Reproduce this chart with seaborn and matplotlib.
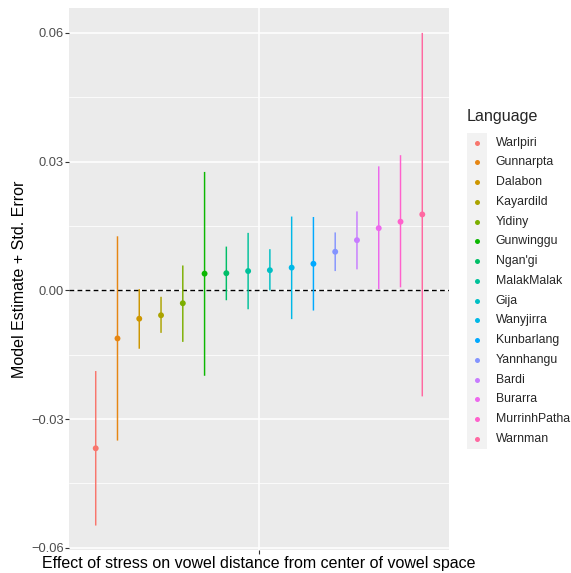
import numpy as np
import pandas as pd
import matplotlib
matplotlib.use("Agg")
import matplotlib.pyplot as plt
from matplotlib.patches import Rectangle
from matplotlib.lines import Line2D
import seaborn as sns

languages = ["Warlpiri", "Gunnarpta", "Dalabon", "Kayardild", "Yidiny", "Gunwinggu",
             "Ngan'gi", "MalakMalak", "Gija", "Wanyjirra", "Kunbarlang", "Yannhangu",
             "Bardi", "Burarra", "MurrinhPatha", "Warnman"]
estimate = [-0.0368, -0.0112, -0.0066, -0.0058, -0.0030, 0.0039, 0.0040, 0.0045,
            0.0047, 0.0053, 0.0062, 0.0090, 0.0117, 0.0145, 0.0160, 0.0177]
upper = [-0.0188, 0.0126, 0.0003, -0.0015, 0.0058, 0.0276, 0.0102, 0.0134,
         0.0096, 0.0172, 0.0171, 0.0135, 0.0184, 0.0289, 0.0315, 0.0600]
lower = [-0.0548, -0.0350, -0.0136, -0.0099, -0.0120, -0.0199, -0.0023, -0.0044,
         0.0000, -0.0067, -0.0047, 0.0045, 0.0049, 0.0003, 0.0007, -0.0247]
y_ticks = [-0.06, -0.03, 0.00, 0.03, 0.06]
y_tick_labels = ["\u22120.06", "\u22120.03", "0.00", "0.03", "0.06"]
x_title = "Effect of stress on vowel distance from center of vowel space"
y_title = "Model Estimate + Std. Error"
legend_title = "Language"


def hcl_hex(h, c=100.0, l=65.0):
    Xn, Yn, Zn = 95.047, 100.0, 108.883
    hr = np.radians(h)
    U, V = c * np.cos(hr), c * np.sin(hr)
    Y = Yn * ((l + 16) / 116) ** 3 if l > 8 else Yn * l / 903.3
    t = Xn + Yn + Zn
    x, y = Xn / t, Yn / t
    uN = 2 * x / (6 * y - x + 1.5)
    vN = 4.5 * y / (6 * y - x + 1.5)
    u = U / (13 * l) + uN
    v = V / (13 * l) + vN
    X = 9.0 * Y * u / (4 * v)
    Z = -X / 3 - 5 * Y + 3 * Y / v
    X, Y, Z = X / 100, Y / 100, Z / 100
    R = 3.240479 * X - 1.537150 * Y - 0.498535 * Z
    G = -0.969256 * X + 1.875992 * Y + 0.041556 * Z
    B = 0.055648 * X - 0.204043 * Y + 1.057311 * Z

    def gam(q):
        q = 1.055 * q ** (1 / 2.4) - 0.055 if q > 0.00304 else 12.92 * q
        return min(max(q, 0.0), 1.0)
    return "#%02X%02X%02X" % tuple(int(round(gam(q) * 255)) for q in (R, G, B))


n = len(languages)
hues = [15 + 360 / n * i for i in range(n)]
palette = {lang: hcl_hex(h) for lang, h in zip(languages, hues)}

dodge = 1.1
df = pd.DataFrame({
    "Language": pd.Categorical(languages, categories=languages, ordered=True),
    "estimate": estimate,
    "upper": upper,
    "lower": lower,
})
df["x"] = 1 + (np.arange(n) - (n - 1) / 2) * dodge / n

sns.set_style("darkgrid", rc={
    "axes.facecolor": "#EBEBEB",
    "grid.color": "white",
    "axes.edgecolor": "none",
})
plt.rcParams["font.family"] = ["Liberation Sans", "DejaVu Sans"]

W, H = 571, 573
fig = plt.figure(figsize=(W / 100, H / 100), dpi=100)
fig.patch.set_facecolor("white")
ax = fig.add_axes([69 / W, 1 - 550 / H, (449 - 69) / W, (550 - 8) / H])
ax.set_facecolor("#EBEBEB")

# grid
ax.set_axisbelow(True)
ax.grid(False)
for yv in y_ticks:
    ax.axhline(yv, color="white", lw=1.1, zorder=0.5)
for yv in [-0.045, -0.015, 0.015, 0.045]:
    ax.axhline(yv, color="white", lw=0.55, zorder=0.5)
ax.axvline(1.0, color="white", lw=1.1, zorder=0.5)

ax.axhline(0, color="black", lw=1.0, linestyle=(0, (3.4, 2.4)), zorder=1)

vl = ax.vlines(df["x"], df["lower"], df["upper"],
               colors=[palette[l] for l in df["Language"]], lw=1.05, zorder=2)
vl.set_snap(False)
sns.scatterplot(data=df, x="x", y="estimate", hue="Language", palette=palette,
                s=18, edgecolor="none", linewidth=0, legend=False, ax=ax, zorder=3)

ax.set_xlim(0.4, 1.6)
ax.set_ylim(-0.0605, 0.0658)
ax.set_yticks(y_ticks)
ax.set_yticklabels(y_tick_labels)
ax.set_xticks([1.0])
ax.set_xticklabels([""])
ax.tick_params(axis="both", which="major", length=2.75, width=0.8, color="#333333",
               labelsize=9.3, labelcolor="#4D4D4D", pad=1.2, left=True, bottom=True)
for s in ax.spines.values():
    s.set_visible(False)
ax.set_xlabel(x_title, fontsize=11.5, color="black", va="center")
ax.xaxis.set_label_coords(0.5, (550 - 563.5) / 542)
ax.set_ylabel(y_title, fontsize=11.5, color="black", va="center")
ax.yaxis.set_label_coords((19.5 - 69) / 380, 0.5)

# legend
fig.text(467 / W, 1 - 117 / H, legend_title, fontsize=11.6, ha="left", va="center")
y0, step = 142.7, 19.75
fig.add_artist(Rectangle((467 / W, 1 - (y0 + (n - 0.5) * step) / H), 20 / W,
                         n * step / H, transform=fig.transFigure,
                         facecolor="#F2F2F2", edgecolor="none"))
for i, lang in enumerate(languages):
    yy = 1 - (y0 + i * step) / H
    fig.add_artist(Line2D([477.3 / W], [yy], marker="o", markersize=3.6,
                          color=palette[lang], markeredgewidth=0, linestyle="none",
                          transform=fig.transFigure))
    fig.text(495.7 / W, yy, lang, fontsize=8.8, ha="left", va="center")

fig.savefig("out.png", dpi=100)
